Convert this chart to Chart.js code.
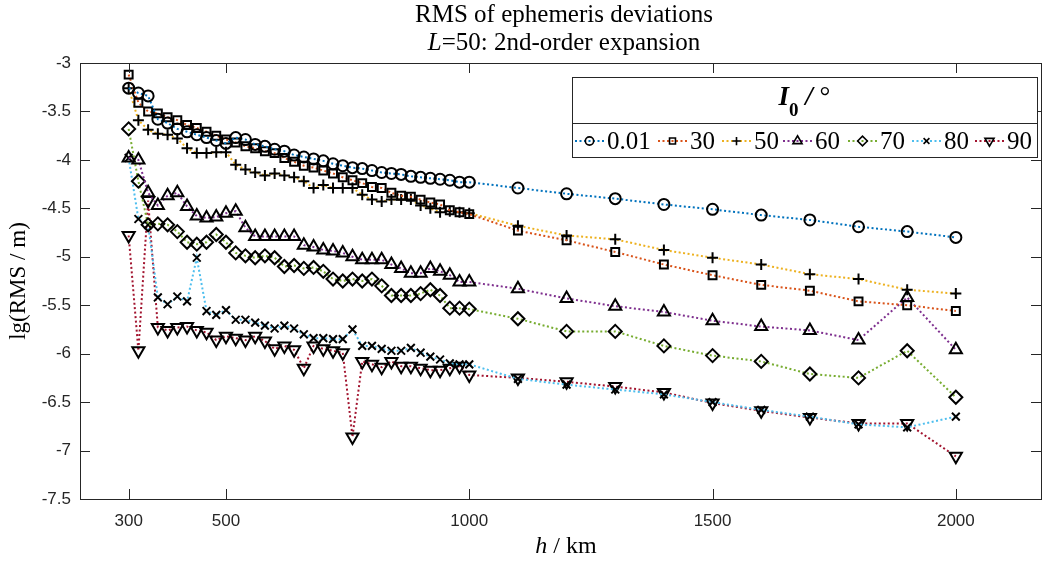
<!DOCTYPE html>
<html lang="en">
<head>
<meta charset="UTF-8">
<title>RMS of ephemeris deviations</title>
<style>
    html, body { margin: 0; padding: 0; background: #fff; overflow: hidden; }
    #wrap { width: 1042px; height: 561px; }
</style>
</head>
<body>
<div id="wrap"><canvas id="rmsChart" width="1042" height="561"></canvas></div>

<script src="https://cdn.jsdelivr.net/npm/chart.js"></script>
<script>
    // altitude h / km
    const hKm = [300, 320, 340, 360, 380, 400, 420, 440, 460, 480, 500,
        520, 540, 560, 580, 600, 620, 640, 660, 680, 700, 720, 740,
        760, 780, 800, 820, 840, 860, 880, 900, 920, 940, 960, 980, 1000,
        1100, 1200, 1300, 1400, 1500, 1600, 1700, 1800, 1900, 2000];

    // inclination I0 / deg
    const incLabels = ['0.01', '30', '50', '60', '70', '80', '90'];

    // lg(RMS / m)
    const rms001 = [-3.26, -3.31, -3.34, -3.58, -3.62, -3.68, -3.71, -3.74, -3.77, -3.80, -3.83,
        -3.77, -3.79, -3.84, -3.86, -3.89, -3.91, -3.95, -3.97, -3.99, -4.01, -4.04, -4.06,
        -4.08, -4.09, -4.11, -4.13, -4.14, -4.15, -4.17, -4.18, -4.19, -4.20, -4.21, -4.23, -4.23,
        -4.29, -4.35, -4.40, -4.46, -4.51, -4.57, -4.62, -4.69, -4.74, -4.80];
    const rms30 = [-3.12, -3.41, -3.50, -3.52, -3.56, -3.59, -3.64, -3.67, -3.71, -3.75, -3.79,
        -3.82, -3.86, -3.88, -3.91, -3.93, -3.98, -4.02, -4.06, -4.08, -4.11, -4.14, -4.18,
        -4.21, -4.24, -4.28, -4.29, -4.34, -4.37, -4.38, -4.41, -4.44, -4.46, -4.52, -4.54, -4.56,
        -4.73, -4.83, -4.95, -5.08, -5.19, -5.29, -5.35, -5.46, -5.50, -5.56];
    const rms50 = [-3.26, -3.59, -3.69, -3.73, -3.74, -3.78, -3.88, -3.93, -3.93, -3.92, -3.92,
        -4.05, -4.10, -4.13, -4.16, -4.14, -4.16, -4.18, -4.22, -4.29, -4.26, -4.29, -4.29,
        -4.29, -4.36, -4.41, -4.43, -4.41, -4.41, -4.41, -4.47, -4.50, -4.54, -4.53, -4.54, -4.55,
        -4.68, -4.78, -4.82, -4.93, -5.01, -5.08, -5.18, -5.23, -5.34, -5.38];
    const rms60 = [-3.98, -4.00, -4.34, -4.47, -4.37, -4.34, -4.48, -4.58, -4.60, -4.59, -4.55,
        -4.53, -4.70, -4.79, -4.79, -4.79, -4.79, -4.79, -4.88, -4.90, -4.93, -4.94, -4.96,
        -5.00, -5.03, -5.03, -5.03, -5.08, -5.12, -5.17, -5.17, -5.12, -5.15, -5.19, -5.26, -5.26,
        -5.33, -5.43, -5.51, -5.57, -5.66, -5.72, -5.76, -5.86, -5.42, -5.96];
    const rms70 = [-3.68, -4.22, -4.67, -4.66, -4.67, -4.74, -4.85, -4.87, -4.85, -4.77, -4.85,
        -4.96, -4.99, -5.01, -4.99, -5.01, -5.10, -5.09, -5.12, -5.11, -5.15, -5.23, -5.25,
        -5.23, -5.25, -5.23, -5.30, -5.40, -5.40, -5.40, -5.38, -5.34, -5.40, -5.53, -5.53, -5.54,
        -5.64, -5.77, -5.77, -5.92, -6.02, -6.08, -6.21, -6.25, -5.97, -6.45];
    const rms80 = [-3.98, -4.61, -4.67, -5.42, -5.49, -5.41, -5.46, -5.01, -5.56, -5.60, -5.55,
        -5.65, -5.65, -5.68, -5.71, -5.74, -5.71, -5.74, -5.80, -5.84, -5.84, -5.85, -5.85,
        -5.75, -5.92, -5.92, -5.95, -5.97, -5.97, -5.94, -5.99, -6.03, -6.06, -6.10, -6.11, -6.11,
        -6.26, -6.32, -6.37, -6.42, -6.50, -6.58, -6.65, -6.73, -6.76, -6.65];
    const rms90 = [-4.78, -5.97, -4.42, -5.73, -5.76, -5.73, -5.72, -5.76, -5.78, -5.86, -5.82,
        -5.84, -5.86, -5.82, -5.87, -5.95, -5.92, -5.96, -6.15, -5.92, -5.95, -5.97, -5.99,
        -6.86, -6.08, -6.11, -6.14, -6.08, -6.13, -6.13, -6.15, -6.17, -6.17, -6.15, -6.13, -6.22,
        -6.25, -6.29, -6.34, -6.40, -6.51, -6.59, -6.66, -6.72, -6.72, -7.06];

    const xTicks = [300, 500, 1000, 1500, 2000];
    const yTicks = [-3, -3.5, -4, -4.5, -5, -5.5, -6, -6.5, -7, -7.5];

    const allSeries = [rms001, rms30, rms50, rms60, rms70, rms80, rms90];

    // MATLAB default line colours
    const colors = ['#0072BD', '#D95319', '#EDB120', '#7E2F8E', '#77AC30', '#4DBEEE', '#A2142F'];
    const markers = [
        { style: 'circle', r: 5.5, rot: 0 },
        { style: 'rect', r: 5.6, rot: 0 },
        { style: 'cross', r: 5.5, rot: 0 },
        { style: 'triangle', r: 7, rot: 0 },
        { style: 'rectRot', r: 6.5, rot: 0 },
        { style: 'crossRot', r: 5.5, rot: 0 },
        { style: 'triangle', r: 7, rot: 180 }
    ];

    const axisColor = '#262626';
    const serif = "'Liberation Serif', 'Times New Roman', serif";

    const datasets = allSeries.map((vals, i) => ({
        label: incLabels[i],
        data: hKm.map((h, k) => ({ x: h, y: vals[k] })),
        borderColor: colors[i],
        borderWidth: 2,
        borderDash: [2, 2.5],
        pointStyle: markers[i].style,
        pointRadius: markers[i].r,
        pointRotation: markers[i].rot,
        pointBorderColor: '#000',
        pointBackgroundColor: 'rgba(0,0,0,0)',
        pointBorderWidth: 2,
        tension: 0,
        clip: false
    }));

    // axes box, inward ticks, titles and the boxed legend
    const decorations = {
        id: 'decorations',
        afterDraw(chart) {
            const ctx = chart.ctx;
            const a = chart.chartArea;
            const xs = chart.scales.x, ys = chart.scales.y;
            ctx.save();

            // box
            ctx.strokeStyle = axisColor;
            ctx.lineWidth = 1;
            ctx.strokeRect(Math.round(a.left) + 0.5, Math.round(a.top) + 0.5,
                Math.round(a.width), Math.round(a.height));

            // ticks pointing inward
            const tl = 10;
            ctx.beginPath();
            xTicks.forEach(v => {
                const px = Math.round(xs.getPixelForValue(v)) + 0.5;
                ctx.moveTo(px, a.bottom); ctx.lineTo(px, a.bottom - tl);
                ctx.moveTo(px, a.top); ctx.lineTo(px, a.top + tl);
            });
            yTicks.forEach(v => {
                const py = Math.round(ys.getPixelForValue(v)) + 0.5;
                ctx.moveTo(a.left, py); ctx.lineTo(a.left + tl, py);
                ctx.moveTo(a.right, py); ctx.lineTo(a.right - tl, py);
            });
            ctx.stroke();

            // title
            ctx.fillStyle = '#000';
            ctx.textBaseline = 'middle';
            ctx.textAlign = 'left';
            const tcx = 564;
            ctx.font = '25px ' + serif;
            let w = ctx.measureText('RMS of ephemeris deviations').width;
            ctx.fillText('RMS of ephemeris deviations', tcx - w / 2, 15);
            ctx.font = 'italic 25px ' + serif;
            const wL = ctx.measureText('L').width;
            ctx.font = '25px ' + serif;
            const rest = '=50: 2nd-order expansion';
            const wR = ctx.measureText(rest).width;
            let sx = tcx - (wL + wR) / 2;
            ctx.font = 'italic 25px ' + serif;
            ctx.fillText('L', sx, 43);
            ctx.font = '25px ' + serif;
            ctx.fillText(rest, sx + wL, 43);

            // x axis title
            ctx.font = 'italic 24px ' + serif;
            const wh = ctx.measureText('h').width;
            ctx.font = '24px ' + serif;
            const wkm = ctx.measureText(' / km').width;
            sx = 566 - (wh + wkm) / 2;
            ctx.font = 'italic 24px ' + serif;
            ctx.fillText('h', sx, 547);
            ctx.font = '24px ' + serif;
            ctx.fillText(' / km', sx + wh, 547);

            // y axis title
            ctx.save();
            ctx.translate(19, (a.top + a.bottom) / 2);
            ctx.rotate(-Math.PI / 2);
            ctx.textAlign = 'center';
            ctx.font = '23px ' + serif;
            ctx.fillText('lg(RMS / m)', 0, 0);
            ctx.restore();

            // legend box
            const lx0 = 572, lx1 = 1037, ly0 = 77, ly1 = 157, lyMid = 123;
            ctx.fillStyle = '#fff';
            ctx.fillRect(lx0, ly0, lx1 - lx0, ly1 - ly0);
            ctx.strokeStyle = axisColor;
            ctx.lineWidth = 1;
            ctx.strokeRect(lx0 + 0.5, ly0 + 0.5, lx1 - lx0, ly1 - ly0);
            ctx.beginPath();
            ctx.moveTo(lx0, lyMid + 0.5); ctx.lineTo(lx1, lyMid + 0.5);
            ctx.stroke();

            // legend header: I0 / deg
            ctx.fillStyle = '#000';
            ctx.textAlign = 'left';
            const parts = [
                { t: 'I', f: 'bold italic 27px ' + serif, dy: 0 },
                { t: '0', f: 'bold 19px ' + serif, dy: 13 },
                { t: ' / ', f: 'bold italic 27px ' + serif, dy: 0 },
                { t: '°', f: '27px ' + serif, dy: 0 }
            ];
            let total = 0;
            parts.forEach(p => { ctx.font = p.f; p.w = ctx.measureText(p.t).width; total += p.w; });
            sx = (lx0 + lx1) / 2 - total / 2;
            parts.forEach(p => {
                ctx.font = p.f;
                ctx.fillText(p.t, sx, 98 + p.dy);
                sx += p.w;
            });

            // legend entries
            const sampleX = [575, 658, 722, 783, 848, 912, 975];
            const ey = 141;
            ctx.font = '25px ' + serif;
            incLabels.forEach((lab, i) => {
                const x0 = sampleX[i], x1 = x0 + 29;
                ctx.strokeStyle = colors[i];
                ctx.lineWidth = 2;
                ctx.setLineDash([2, 2.5]);
                ctx.beginPath();
                ctx.moveTo(x0, ey); ctx.lineTo(x1, ey);
                ctx.stroke();
                ctx.setLineDash([]);
                ctx.strokeStyle = '#000';
                ctx.fillStyle = 'rgba(0,0,0,0)';
                ctx.lineWidth = 1.6;
                Chart.helpers.drawPoint(ctx, {
                    pointStyle: markers[i].style,
                    radius: markers[i].r * 0.75,
                    rotation: markers[i].rot,
                    borderWidth: 1.6
                }, (x0 + x1) / 2, ey);
                ctx.fillStyle = '#000';
                ctx.fillText(lab, x1 + 3, ey + 1);
            });

            ctx.restore();
        }
    };

    const tickFont = { family: "'Liberation Sans', Arial, sans-serif", size: 17 };

    new Chart(document.getElementById('rmsChart'), {
        type: 'line',
        data: { datasets: datasets },
        options: {
            responsive: false,
            animation: false,
            layout: { autoPadding: false, padding: { top: 63, right: 1, left: 0, bottom: 0 } },
            plugins: {
                legend: { display: false },
                title: { display: false },
                tooltip: { enabled: false }
            },
            scales: {
                x: {
                    type: 'linear',
                    min: 200,
                    max: 2175,
                    grid: { display: false, drawTicks: false },
                    border: { display: false },
                    afterBuildTicks: s => { s.ticks = xTicks.map(v => ({ value: v })); },
                    afterFit: s => { s.height = 62; s.paddingLeft = 0; s.paddingRight = 0; },
                    ticks: { color: axisColor, font: tickFont, padding: 12, maxRotation: 0, autoSkip: false, callback: v => String(v) }
                },
                y: {
                    type: 'linear',
                    min: -7.5,
                    max: -3,
                    grid: { display: false, drawTicks: false },
                    border: { display: false },
                    afterBuildTicks: s => { s.ticks = yTicks.map(v => ({ value: v })); },
                    afterFit: s => { s.width = 80; s.paddingTop = 0; s.paddingBottom = 0; },
                    ticks: { color: axisColor, font: tickFont, padding: 9, callback: v => String(v) }
                }
            }
        },
        plugins: [decorations]
    });
</script>
</body>
</html>
